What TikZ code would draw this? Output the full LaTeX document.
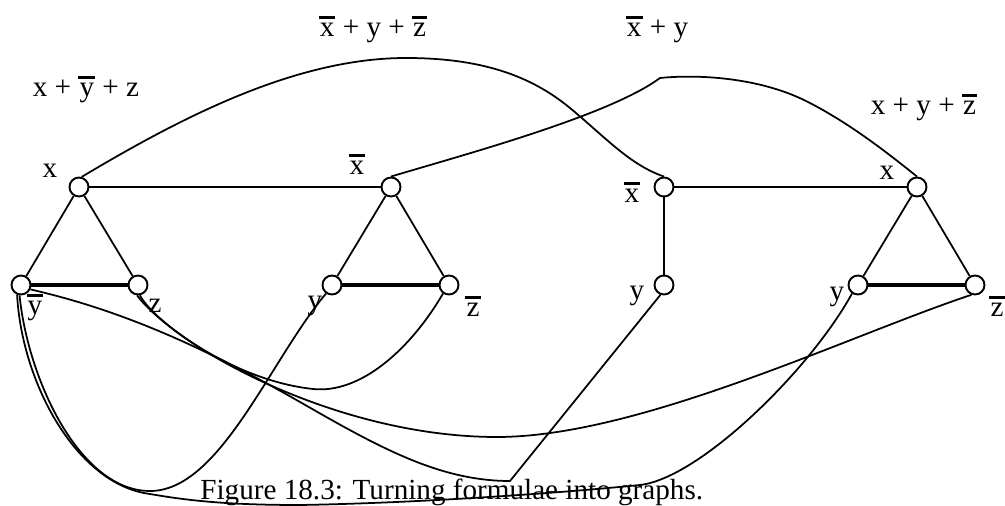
\documentclass[tikz,border=0pt]{standalone}
\usepackage{fontspec}
\setmainfont{Liberation Serif}
\usepackage{tikz}
\usetikzlibrary{calc}
% letter with a bar on top
\newcommand{\ov}[1]{\setbox0\hbox{\kern0.6pt#1\kern0.6pt}\vbox{\hrule height 1.5pt\kern 2.6pt\box0}}

\begin{document}
\begin{tikzpicture}[x=0.02cm,y=-0.02cm,font=\fontsize{16.6}{20}\selectfont,
     vx/.style={circle,draw,line width=1.1pt,fill=white,inner sep=0pt,minimum size=0.38cm},
     lb/.style={anchor=base,inner sep=0pt},
     ed/.style={line width=1pt},
     tk/.style={line width=1.8pt}]
    \useasboundingbox (0,0) rectangle (1005,506);
    % clause x + ybar + z
    \node[vx] (ax)  at (79,187)  {};
    \node[vx] (ayb) at (21,285)  {};
    \node[vx] (az)  at (138,285) {};
    % clause xbar + y + zbar
    \node[vx] (bxb) at (391,187) {};
    \node[vx] (by)  at (332,285) {};
    \node[vx] (bzb) at (449,285) {};
    % clause xbar + y
    \node[vx] (cxb) at (664,187) {};
    \node[vx] (cy)  at (664,285) {};
    % clause x + y + zbar
    \node[vx] (dx)  at (917,187) {};
    \node[vx] (dy)  at (858,285) {};
    \node[vx] (dzb) at (975,285) {};
    % literal labels
    \node[lb] (lax)  at (50,178)  {x};
    \node[lb] (layb) at (35,315)  {\ov{y}};
    \node[lb] (laz)  at (155,313) {z};
    \node[lb] (lbxb) at (357,175) {\ov{x}};
    \node[lb] (lby)  at (315,310) {y};
    \node[lb] (lbzb) at (473,317) {\ov{z}};
    \node[lb] (lcxb) at (632,203) {\ov{x}};
    \node[lb] (lcy)  at (637,300) {y};
    \node[lb] (ldx)  at (887,180) {x};
    \node[lb] (ldy)  at (837,301) {y};
    \node[lb] (ldzb) at (997,317) {\ov{z}};
    % clauses
    \node[lb] (c1) at (86,97)   {x + \ov{y} + z};
    \node[lb] (c2) at (373,37)  {\ov{x} + y + \ov{z}};
    \node[lb] (c3) at (657,37)  {\ov{x} + y};
    \node[lb] (c4) at (924,115) {x + y + \ov{z}};
    \node[anchor=base west,inner sep=0pt] (cap) at (200,500) {Figure 18.3: Turning formulae into graphs.};
    % triangles and straight edges
    \draw[ed] (ax) -- (ayb);
    \draw[ed] (ax) -- (az);
    \draw[tk] (ayb) -- (az);
    \draw[ed] (bxb) -- (by);
    \draw[ed] (bxb) -- (bzb);
    \draw[tk] (by) -- (bzb);
    \draw[ed] (cxb) -- (cy);
    \draw[ed] (dx) -- (dy);
    \draw[ed] (dx) -- (dzb);
    \draw[tk] (dy) -- (dzb);
    \draw[ed] (ax) -- (bxb);
    \draw[ed] (cxb) -- (dx);
    % long curves between complementary literals
    \draw[ed] (ax.75) .. controls (182,117) and (296,58) .. (406,58)
              .. controls (480,58) and (530,75) .. (570,108)
              .. controls (605,137) and (630,165) .. (cxb.north);
    \draw[ed] (bxb.north) .. controls (470,153) and (610,115) .. (660,78)
              .. controls (700,74) and (760,78) .. (806,101)
              .. controls (850,123) and (890,155) .. (dx.north);
    \draw[ed] (ayb.262) .. controls (28,380) and (80,491) .. (150,491)
              .. controls (220,491) and (270,360) .. (by.235);
    \draw[ed] (ayb.248) .. controls (22,385) and (78,485) .. (150,494)
              .. controls (190,501) and (230,505) .. (300,505)
              .. controls (420,503) and (560,493) .. (640,485)
              .. controls (700,478) and (810,370) .. (dy.235);
    \draw[ed] (ayb.-25) .. controls (120,310) and (200,345) .. (300,402)
              .. controls (380,448) and (440,481) .. (510,481) -- (cy.250);
    \draw[ed] (az.265) .. controls (155,320) and (230,380) .. (313,389)
              .. controls (360,394) and (410,350) .. (bzb.235);
    \draw[ed] (az.280) .. controls (165,340) and (330,437) .. (497,437)
              .. controls (640,437) and (850,335) .. (dzb.250);
\end{tikzpicture}
\end{document}
